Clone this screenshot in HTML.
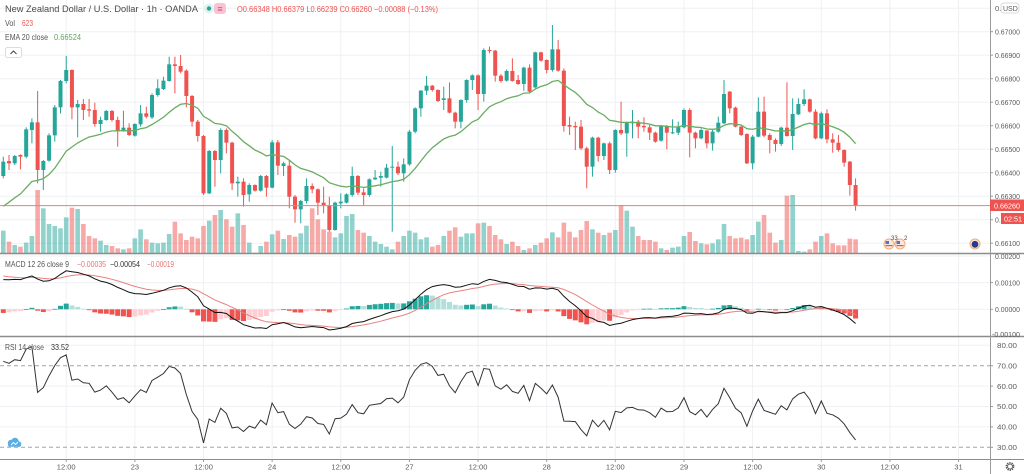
<!DOCTYPE html>
<html><head><meta charset="utf-8">
<style>
html,body{margin:0;padding:0;background:#fff;width:1024px;height:474px;overflow:hidden}
svg{display:block;font-family:"Liberation Sans",sans-serif}
</style></head>
<body>
<svg id="s" width="1024" height="474" viewBox="0 0 1024 474" xmlns="http://www.w3.org/2000/svg">
<defs>
<clipPath id="cm"><rect x="0" y="254" width="990" height="82"/></clipPath>
<clipPath id="cr"><rect x="0" y="337" width="990" height="122"/></clipPath>
</defs>
<rect width="1024" height="474" fill="#fff"/>
<g id="grid"></g>
<g id="plot"></g>
<g id="ind"></g>

<!-- RSI dashed levels -->
<line x1="0" x2="990" y1="365.7" y2="365.7" stroke="#a3a3a3" stroke-width="1" stroke-dasharray="4,3"/>
<line x1="0" x2="990" y1="447.3" y2="447.3" stroke="#a3a3a3" stroke-width="1" stroke-dasharray="4,3"/>

<!-- current price line -->
<line x1="0" x2="990" y1="205.6" y2="205.6" stroke="#d08a87" stroke-width="1"/>

<!-- separators -->
<line x1="0" x2="1024" y1="253.5" y2="253.5" stroke="#8c8c8c" stroke-width="1.4"/>
<line x1="0" x2="1024" y1="336.5" y2="336.5" stroke="#8c8c8c" stroke-width="1.4"/>
<line x1="0" x2="1024" y1="459.5" y2="459.5" stroke="#8c8c8c" stroke-width="1"/>
<line x1="990.5" x2="990.5" y1="0" y2="474" stroke="#9a9a9a" stroke-width="1"/>

<!-- header -->
<text x="5" y="12" font-size="9.5" fill="#4a4a4a" textLength="193" lengthAdjust="spacingAndGlyphs">New Zealand Dollar / U.S. Dollar · 1h · OANDA</text>
<circle cx="209" cy="8.5" r="5" fill="#dff2ef"/>
<circle cx="209" cy="8.5" r="2.2" fill="#26a69a"/>
<rect x="214" y="3" width="12" height="11" rx="3" fill="#f8c4d3"/>
<text x="220" y="12" font-size="9" fill="#e0457a" text-anchor="middle">≡</text>
<text x="237" y="12" font-size="8" fill="#ef5350" textLength="201" lengthAdjust="spacingAndGlyphs">O0.66348 H0.66379 L0.66239 C0.66260 −0.00088 (−0.13%)</text>
<text x="5" y="26" font-size="8" fill="#555" textLength="10" lengthAdjust="spacingAndGlyphs">Vol</text>
<text x="22" y="26" font-size="8" fill="#ef5350" textLength="11" lengthAdjust="spacingAndGlyphs">623</text>
<text x="5" y="40" font-size="8" fill="#555" textLength="43" lengthAdjust="spacingAndGlyphs">EMA 20 close</text>
<text x="54" y="40" font-size="8" fill="#5ea85a" textLength="27" lengthAdjust="spacingAndGlyphs">0.66524</text>
<rect x="5.5" y="47.5" width="16" height="10" rx="2" fill="#fff" stroke="#dcdcdc" stroke-width="1"/>
<path d="M10.5 54 L13.5 51 L16.5 54" fill="none" stroke="#444" stroke-width="1"/>

<!-- MACD / RSI labels -->
<text x="5" y="267" font-size="8" fill="#555" textLength="64" lengthAdjust="spacingAndGlyphs">MACD 12 26 close 9</text>
<text x="77" y="267" font-size="8" fill="#e57373" textLength="29" lengthAdjust="spacingAndGlyphs">−0.00035</text>
<text x="110" y="267" font-size="8" fill="#333" textLength="30" lengthAdjust="spacingAndGlyphs">−0.00054</text>
<text x="147" y="267" font-size="8" fill="#e57373" textLength="27" lengthAdjust="spacingAndGlyphs">−0.00019</text>
<text x="5" y="350" font-size="8" fill="#555" textLength="39" lengthAdjust="spacingAndGlyphs">RSI 14 close</text>
<text x="51" y="350" font-size="8" fill="#333" textLength="18" lengthAdjust="spacingAndGlyphs">33.52</text>

<!-- price axis -->
<g font-size="7.5" fill="#5a5a5a">
<text x="995" y="11">0.</text>
<rect x="1001" y="3" width="18" height="10" rx="3" fill="#fff" stroke="#cfcfcf" stroke-width="0.8"/>
<text x="1003" y="11" font-size="7">USD</text>
<text x="995" y="34.3" textLength="25" lengthAdjust="spacingAndGlyphs">0.67000</text>
<text x="995" y="57.8" textLength="25" lengthAdjust="spacingAndGlyphs">0.66900</text>
<text x="995" y="81.3" textLength="25" lengthAdjust="spacingAndGlyphs">0.66800</text>
<text x="995" y="104.8" textLength="25" lengthAdjust="spacingAndGlyphs">0.66700</text>
<text x="995" y="128.3" textLength="25" lengthAdjust="spacingAndGlyphs">0.66600</text>
<text x="995" y="151.8" textLength="25" lengthAdjust="spacingAndGlyphs">0.66500</text>
<text x="995" y="175.3" textLength="25" lengthAdjust="spacingAndGlyphs">0.66400</text>
<text x="995" y="198.8" textLength="25" lengthAdjust="spacingAndGlyphs">0.66300</text>
<text x="995" y="222.3" textLength="25" lengthAdjust="spacingAndGlyphs">0.66200</text>
<text x="995" y="245.8" textLength="25" lengthAdjust="spacingAndGlyphs">0.66100</text>
<text x="995" y="258.8" textLength="25" lengthAdjust="spacingAndGlyphs">0.00200</text>
<text x="995" y="285.6" textLength="25" lengthAdjust="spacingAndGlyphs">0.00100</text>
<text x="995" y="312" textLength="25" lengthAdjust="spacingAndGlyphs">0.00000</text>
<text x="992" y="337" textLength="28" lengthAdjust="spacingAndGlyphs">-0.00100</text>
<text x="997" y="348" textLength="20" lengthAdjust="spacingAndGlyphs">80.00</text>
<text x="997" y="368.4" textLength="20" lengthAdjust="spacingAndGlyphs">70.00</text>
<text x="997" y="388.8" textLength="20" lengthAdjust="spacingAndGlyphs">60.00</text>
<text x="997" y="409.2" textLength="20" lengthAdjust="spacingAndGlyphs">50.00</text>
<text x="997" y="429.6" textLength="20" lengthAdjust="spacingAndGlyphs">40.00</text>
<text x="997" y="450" textLength="20" lengthAdjust="spacingAndGlyphs">30.00</text>
</g>
<g stroke="#9a9a9a" stroke-width="1">
<line x1="990" x2="993" y1="31.7" y2="31.7"/><line x1="990" x2="993" y1="55.2" y2="55.2"/>
<line x1="990" x2="993" y1="78.7" y2="78.7"/><line x1="990" x2="993" y1="102.2" y2="102.2"/>
<line x1="990" x2="993" y1="125.7" y2="125.7"/><line x1="990" x2="993" y1="149.2" y2="149.2"/>
<line x1="990" x2="993" y1="172.7" y2="172.7"/><line x1="990" x2="993" y1="196.2" y2="196.2"/>
<line x1="990" x2="993" y1="219.7" y2="219.7"/><line x1="990" x2="993" y1="243.2" y2="243.2"/>
<line x1="990" x2="993" y1="282.6" y2="282.6"/><line x1="990" x2="993" y1="309.3" y2="309.3"/>
<line x1="990" x2="993" y1="365.7" y2="365.7"/><line x1="990" x2="993" y1="386.1" y2="386.1"/>
<line x1="990" x2="993" y1="406.5" y2="406.5"/><line x1="990" x2="993" y1="426.9" y2="426.9"/>
<line x1="990" x2="993" y1="447.3" y2="447.3"/>
</g>
<!-- price tag and countdown -->
<rect x="990" y="199.5" width="34" height="11.5" fill="#ef5350"/>
<text x="994" y="208.3" font-size="7.5" fill="#fff" textLength="26" lengthAdjust="spacingAndGlyphs">0.66260</text>
<rect x="1001" y="213" width="23" height="11" fill="#ef5350"/>
<text x="1004" y="221.5" font-size="7.5" fill="#fff" textLength="18" lengthAdjust="spacingAndGlyphs">02:51</text>

<!-- event icons -->
<circle cx="889" cy="244" r="5" fill="#fbe6dc" stroke="#f2ac7c" stroke-width="1"/>
<rect x="885.5" y="241" width="3.5" height="3" fill="#4a78c8"/>
<rect x="885.5" y="245" width="7" height="1.2" fill="#e25555"/>
<circle cx="900" cy="244" r="5" fill="#fbe6dc" stroke="#f2ac7c" stroke-width="1"/>
<rect x="896.5" y="241" width="3.5" height="3" fill="#4a78c8"/>
<rect x="896.5" y="245" width="7" height="1.2" fill="#e25555"/>
<text x="891" y="240" font-size="6" fill="#444">33</text>
<text x="904" y="240" font-size="6" fill="#444">2</text>
<circle cx="975" cy="244" r="5" fill="#fbe6dc" stroke="#f2ac7c" stroke-width="1"/>
<circle cx="975" cy="244.3" r="3.4" fill="#273a8c"/>

<!-- cloud icon -->
<g fill="#5aaee3">
<circle cx="11" cy="443" r="3.2"/><circle cx="15" cy="441.5" r="3.8"/><circle cx="18.5" cy="444" r="2.8"/>
<rect x="8" y="443" width="13" height="3.8" rx="1.8"/>
</g>
<path d="M11 445 L13.5 442.5 L15.5 444.5 L18 442" fill="none" stroke="#fff" stroke-width="0.9"/>

<!-- time axis -->
<g font-size="7.5" fill="#5a5a5a" text-anchor="middle">
<text x="66.2" y="469.5">12:00</text>
<text x="134.9" y="469.5">23</text>
<text x="203.5" y="469.5">12:00</text>
<text x="272.1" y="469.5">24</text>
<text x="340.8" y="469.5">12:00</text>
<text x="409.4" y="469.5">27</text>
<text x="478" y="469.5">12:00</text>
<text x="546.7" y="469.5">28</text>
<text x="615.3" y="469.5">12:00</text>
<text x="684" y="469.5">29</text>
<text x="752.6" y="469.5">12:00</text>
<text x="821.3" y="469.5">30</text>
<text x="889.9" y="469.5">12:00</text>
<text x="958.5" y="469.5">31</text>
</g>
<g id="ticks" stroke="#9a9a9a" stroke-width="1"></g>
<!-- gear -->
<circle cx="1010" cy="466.5" r="3.6" fill="none" stroke="#555" stroke-width="1.6" stroke-dasharray="1.4,0.9"/>
<circle cx="1010" cy="466.5" r="2.4" fill="#fff" stroke="#555" stroke-width="0.8"/>

<script>
(function(){
const NS='http://www.w3.org/2000/svg';
function el(p,t,a){const e=document.createElementNS(NS,t);for(const k in a)e.setAttribute(k,a[k]);p.appendChild(e);return e;}
const G=document.getElementById('grid'),P=document.getElementById('plot'),I=document.getElementById('ind'),T=document.getElementById('ticks');
const gc='#eef0f4';
for(let k=0;k<14;k++){const x=3.3+5.72*(11+12*k);el(G,'line',{x1:x,x2:x,y1:0,y2:459,stroke:gc,'stroke-width':1});el(T,'line',{x1:x,x2:x,y1:459,y2:462});}
for(let k=0;k<11;k++){const y=8.2+23.5*k;el(G,'line',{x1:0,x2:990,y1:y,y2:y,stroke:gc,'stroke-width':1});}
[256,282.6,309.3].forEach(y=>el(G,'line',{x1:0,x2:990,y1:y,y2:y,stroke:gc,'stroke-width':1}));
[345.3,386.1,406.5,426.9].forEach(y=>el(G,'line',{x1:0,x2:990,y1:y,y2:y,stroke:gc,'stroke-width':1}));

const D="g425,468,410,475 r423,430,405,450 g408,430,405,435 r405,410,403,448 g328,410,322,415 g307,330,295,370 r307,450,213,490 g423,450,420,510 g346,422,340,425 g262,346,255,365 g183,262,180,280 g150,183,108,190 r150,262,148,298 g252,262,240,352 r252,270,237,300 r268,272,237,290 r270,312,248,320 g300,312,290,335 g273,300,270,302 r273,300,270,305 r300,332,290,380 g323,332,272,335 r323,345,310,348 g312,347,310,350 g280,313,255,320 r280,290,260,295 g225,292,220,297 g205,225,178,230 g182,207,170,210 g133,183,110,185 r133,138,110,220 r138,155,105,160 r152,228,148,262 r228,305,225,320 r305,348,300,365 r348,520,345,525 g393,520,390,522 r393,420,390,500 g330,420,325,460 r330,368,325,400 r368,490,365,510 g485,490,470,530 r485,525,475,560 g495,523,490,545 r495,512,493,515 g468,512,465,515 r468,503,465,530 g367,503,360,505 r367,437,360,465 g430,438,425,468 r437,530,420,565 r530,568,525,608 g543,568,540,610 g498,543,475,550 r498,508,490,520 r508,548,505,585 r548,555,500,580 r557,630,530,635 g548,630,545,632 g545,550,520,565 g523,548,520,550 g468,525,440,530 r468,518,465,525 r517,525,505,555 g478,525,475,530 g473,478,450,480 g468,473,455,500 g443,473,432,475 g440,443,378,635 r440,460,425,465 g433,460,415,485 g335,433,330,437 g265,335,262,340 g212,265,210,290 g197,212,168,225 r197,210,195,215 r210,243,208,246 g235,240,200,270 r235,278,187,280 r278,305,275,325 g240,305,238,325 g180,240,178,248 g166,180,163,210 r166,222,163,270 g90,222,85,245 r90,93,80,100 r92,167,90,185 r167,183,162,188 g153,182,148,185 r153,183,115,185 r180,192,165,195 g143,192,140,212 r143,215,133,220 g97,202,95,205 r97,122,95,125 r120,150,118,160 g88,150,15,155 r88,152,60,155 r152,318,145,335 r315,320,290,345 r318,322,305,390 r320,385,300,390 r385,440,380,505 g353,440,350,470 r353,408,350,425 g370,408,368,420 r370,450,365,462 g330,450,328,458 r330,340,245,345 g308,340,305,410 g305,310,270,355 r305,320,300,355 r318,322,292,335 r322,338,315,360 r338,365,335,368 g318,362,315,365 r318,338,315,388 g337,340,298,342 g320,338,305,345 g270,322,265,325 r270,338,265,412 r338,355,335,385 g330,355,325,358 r332,370,330,385 g335,370,330,392 g308,335,290,338 g222,310,180,312 r215,265,213,280 r263,320,260,322 r320,345,318,348 r342,430,340,432 g350,430,345,448 g275,350,232,352 r275,347,230,352 r345,360,340,400 r360,372,355,395 g323,372,320,378 r323,348,187,350 g282,348,235,390 g252,283,235,285 g238,252,208,258 r238,275,236,278 r275,355,268,358 g280,355,275,358 r280,358,268,370 r358,368,340,398 r368,390,345,395 r390,428,388,440 r425,495,423,527 r495,557,475,572";
const V=[632,665,675,680,668,648,510,565,612,618,625,592,563,567,612,648,655,662,675,678,685,688,685,655,628,658,668,670,668,642,605,640,660,650,655,618,602,585,570,598,620,580,615,668,698,678,665,643,632,657,645,650,640,617,565,598,628,635,652,640,588,582,630,638,648,665,672,680,688,665,648,632,638,658,652,680,675,648,632,622,650,640,640,610,608,618,645,658,672,665,678,690,685,675,668,655,637,652,608,635,652,630,603,628,638,645,638,630,555,572,620,648,660,660,665,685,690,683,680,648,636,663,670,673,670,658,612,648,655,653,658,645,605,585,638,668,660,527,525,693,695,688,665,648,640,670,676,676,656,658];
const C=D.split(' ').map(s=>{const up=s[0]==='g';const a=s.slice(1).split(',').map(Number);return {up,bt:a[0],bb:a[1],wt:a[2],wb:a[3]};});
const Y=v=>20+v/3, X=i=>3.3+5.72*i;
const UP='#26a69a',DN='#ef5350';
// volume
C.forEach((c,i)=>{const v=V[i]||680;const y=Y(v);el(P,'rect',{x:X(i)-2.3,y:y,width:4.6,height:253-y,fill:c.up?'rgba(38,166,154,0.5)':'rgba(239,83,80,0.5)'});});
// candles
C.forEach((c,i)=>{const x=X(i),col=c.up?UP:DN;
 el(P,'line',{x1:x,x2:x,y1:Y(c.wt),y2:Y(c.wb),stroke:col,'stroke-width':1});
 const t=Y(c.bt),b=Y(c.bb);el(P,'rect',{x:x-2,y:t,width:4,height:Math.max(1,b-t),fill:col});});
const close=C.map(c=>Y(c.up?c.bt:c.bb));
// EMA 20
let e=211,pts=[];close.forEach((c,i)=>{e+=(2/21)*(c-e);pts.push(X(i).toFixed(1)+','+e.toFixed(1));});
el(P,'polyline',{points:pts.join(' '),fill:'none',stroke:'#6aad62','stroke-width':1.3});
// MACD
const toP=y=>0.67-(y-31.7)/23500;
let e12=toP(192),e26=toP(218),sig=0.0013,mp=[],sp=[],prevH=null;
const mg=el(I,'g',{'clip-path':'url(#cm)'});
const hist=[];
close.forEach((cy,i)=>{const p=toP(cy);e12+=(2/13)*(p-e12);e26+=(2/27)*(p-e26);const m=e12-e26;sig+=(2/10)*(m-sig);const h=m-sig;
 mp.push(X(i).toFixed(1)+','+(309.3-m*26300).toFixed(1));sp.push(X(i).toFixed(1)+','+(309.3-sig*26300).toFixed(1));hist.push(h);});
hist.forEach((h,i)=>{const prev=i>0?hist[i-1]:h;let col;
 if(h>=0)col=(h>=prev)?'#26a69a':'#b2dfdb';else col=(h<=prev)?'#ef5350':'#ffcdd2';
 const y=309.3-h*26300;el(mg,'rect',{x:X(i)-2.5,y:Math.min(y,309.3),width:5,height:Math.max(0.8,Math.abs(y-309.3)),fill:col});});
el(mg,'polyline',{points:sp.join(' '),fill:'none',stroke:'#e8827f','stroke-width':1});
el(mg,'polyline',{points:mp.join(' '),fill:'none',stroke:'#111','stroke-width':1});
// RSI
let ag=7,al=2.8,pc=165,rp=[];
close.forEach((cy,i)=>{const ch=pc-cy;const g=ch>0?ch:0,l=ch<0?-ch:0;ag=(ag*13+g)/14;al=(al*13+l)/14;pc=cy;const r=100-100/(1+ag/Math.max(al,1e-6));
 rp.push(X(i).toFixed(1)+','+(345.3+(80-r)*2.04).toFixed(1));});
const rg=el(I,'g',{'clip-path':'url(#cr)'});
el(rg,'polyline',{points:rp.join(' '),fill:'none',stroke:'#333','stroke-width':1});
})();
</script>
</svg>
</body></html>
